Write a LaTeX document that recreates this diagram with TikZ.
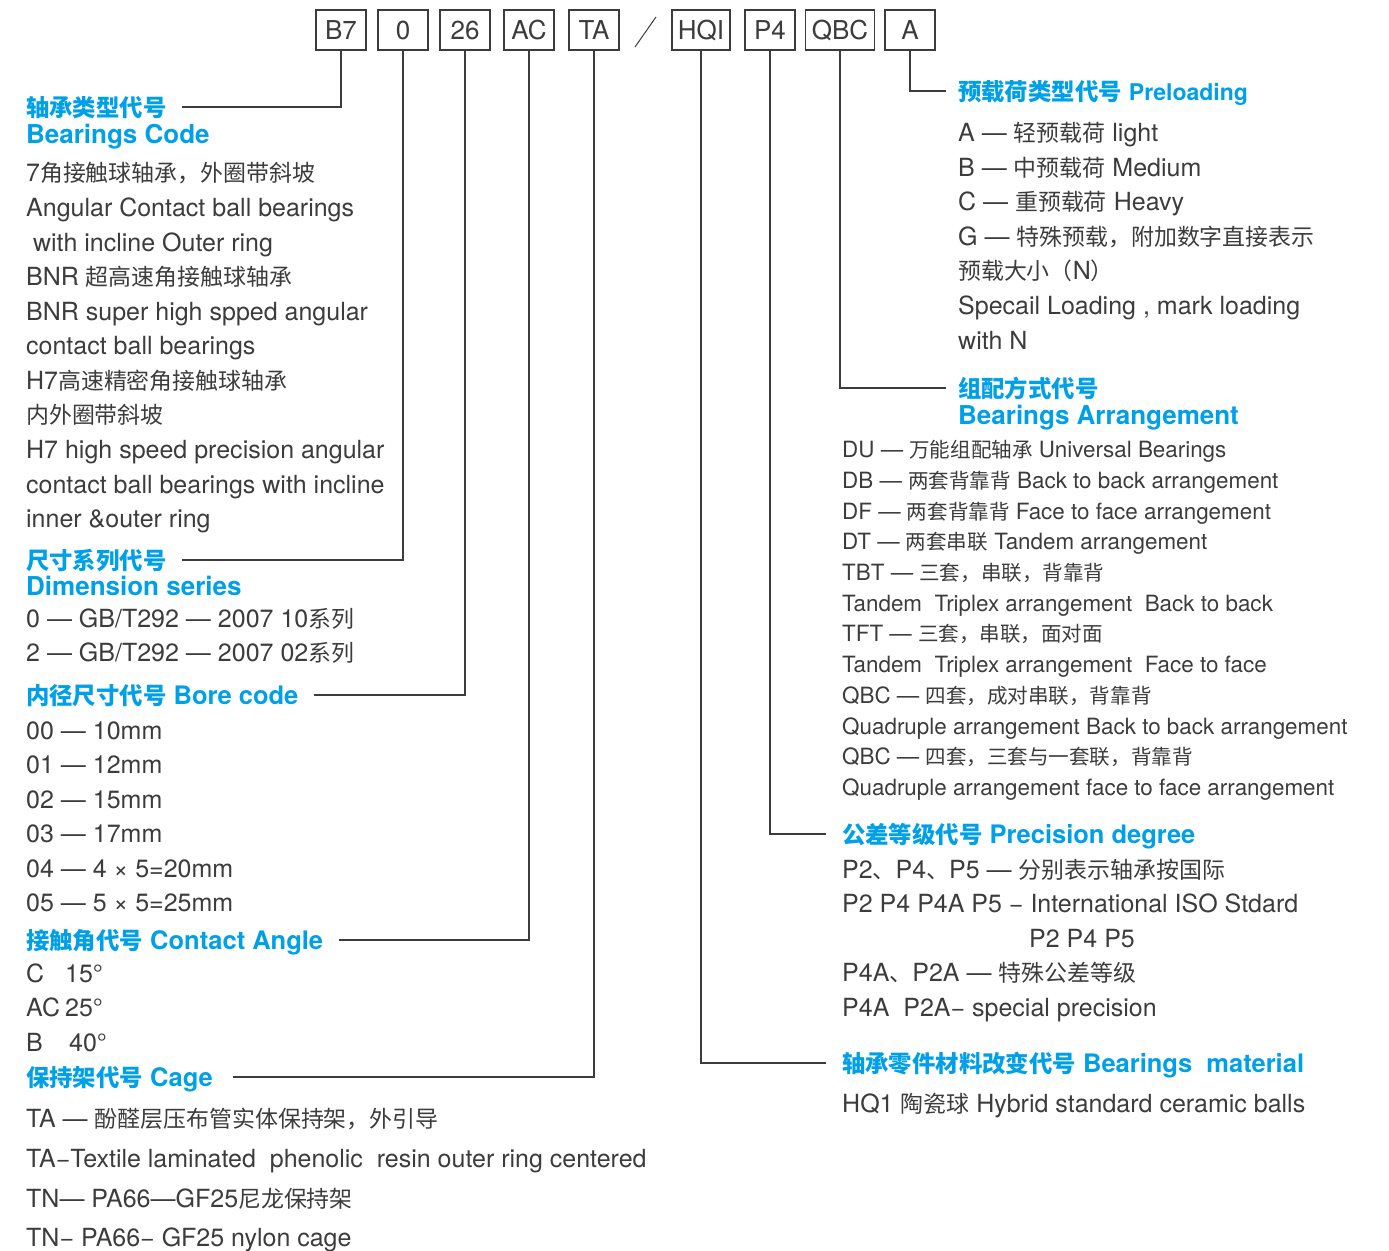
\documentclass[tikz,border=0pt]{standalone}
\usepackage{fontspec}
\usepackage{xcolor}
\usepackage{tikz}
\setmainfont{TeX Gyre Heros}
\newfontfamily\cjk{Noto Sans CJK SC}[Scale=0.917]
\newcommand\zh[1]{{\cjk #1}}
\definecolor{codeblue}{RGB}{0,160,233}
\definecolor{inkgray}{RGB}{60,60,60}
\tikzset{
  codebox/.style={draw=inkgray, line width=1.3pt, minimum width=50pt, minimum height=40pt, inner xsep=6pt, text=inkgray, font=\fontsize{26}{26}\selectfont},
  body/.style={anchor=west, inner sep=0pt, text height=18pt, text depth=0pt, text=inkgray, font=\fontsize{25}{25}\selectfont},
  small/.style={body, text height=16pt, font=\fontsize{22.4}{22.4}\selectfont},
  head/.style={body, text height=18.4pt, text=codeblue, font=\bfseries\fontsize{25.5}{25.5}\selectfont},
  lead/.style={draw=inkgray, line width=1.3pt, shorten >=#1},
  lead/.default=15pt
}

\begin{document}
\begin{tikzpicture}[x=1pt,y=-1pt]
    \useasboundingbox (0,0) rectangle (1389,1250);

    % Code boxes
    \node[codebox] (bx7) at (341,30) {B7};
    \node[codebox] (bx0) at (403,30) {0};
    \node[codebox] (bx26) at (465,30) {26};
    \node[codebox] (bxac) at (529,30) {AC};
    \node[codebox] (bxta) at (594,30) {TA};
    \draw[draw=inkgray, line width=1pt] (635,47) -- (656,17);
    \node[codebox] (bxhq) at (701,30) {HQI};
    \node[codebox] (bxp4) at (770,30) {P4};
    \node[codebox] (bxqbc) at (840,30) {QBC};
    \node[codebox] (bxa) at (910,30) {A};

    % Left column
    \node[head] (hdtype) at (26,107) {\zh{轴承类型代号}};
    \node[head, font=\bfseries\fontsize{26}{26}\selectfont] (hdtypeen) at (26,134) {Bearings Code};
    \node[body] (l1) at (26,172) {7\zh{角接触球轴承，外圈带斜坡}};
    \node[body] (l2) at (26,207) {Angular Contact ball bearings};
    \node[body] (l3) at (26,242) {\ with incline Outer ring};
    \node[body] (l4) at (26,276) {BNR \zh{超高速角接触球轴承}};
    \node[body] (l5) at (26,311) {BNR super high spped angular};
    \node[body] (l6) at (26,345) {contact ball bearings};
    \node[body] (l7) at (26,380) {H7\zh{高速精密角接触球轴承}};
    \node[body] (l8) at (26,414) {\zh{内外圈带斜坡}};
    \node[body] (l9) at (26,449) {H7 high speed precision angular};
    \node[body] (l10) at (26,484) {contact ball bearings with incline};
    \node[body] (l11) at (26,518) {inner \&outer ring};

    \node[head] (hddim) at (26,560) {\zh{尺寸系列代号}};
    \node[head, font=\bfseries\fontsize{26}{26}\selectfont] (hddimen) at (26,586) {Dimension series};
    \node[body] (d1) at (26,618) {0 — GB/T292 — 2007 10\zh{系列}};
    \node[body] (d2) at (26,652) {2 — GB/T292 — 2007 02\zh{系列}};

    \node[head] (hdbore) at (26,695) {\zh{内径尺寸代号} Bore code};
    \node[body] (b1) at (26,730) {00 — 10mm};
    \node[body] (b2) at (26,764) {01 — 12mm};
    \node[body] (b3) at (26,799) {02 — 15mm};
    \node[body] (b4) at (26,833) {03 — 17mm};
    \node[body] (b5) at (26,868) {04 — 4 × 5=20mm};
    \node[body] (b6) at (26,902) {05 — 5 × 5=25mm};

    \node[head] (hdangle) at (26,940) {\zh{接触角代号} Contact Angle};
    \node[body] (a1) at (26,973) {\makebox[39pt][l]{C}15°};
    \node[body] (a2) at (26,1007) {\makebox[39pt][l]{AC}25°};
    \node[body] (a3) at (26,1042) {\makebox[43pt][l]{B}40°};

    \node[head] (hdcage) at (26,1077) {\zh{保持架代号} Cage};
    \node[body] (c1) at (26,1118) {TA — \zh{酚醛层压布管实体保持架，外引导}};
    \node[body] (c2) at (26,1158) {TA−Textile laminated\ \ phenolic\ \ resin outer ring centered};
    \node[body] (c3) at (26,1198) {TN— PA66—GF25\zh{尼龙保持架}};
    \node[body] (c4) at (26,1237) {TN− PA66− GF25 nylon cage};

    % Right column
    \node[head] (hdpre) at (958,91) {\zh{预载荷类型代号} {\fontsize{23}{23}\selectfont Preloading}};
    \node[body] (p1) at (958,132) {A — \zh{轻预载荷} light};
    \node[body] (p2) at (958,167) {B — \zh{中预载荷} Medium};
    \node[body] (p3) at (958,201) {C — \zh{重预载荷} Heavy};
    \node[body] (p4) at (958,236) {G — \zh{特殊预载，附加数字直接表示}};
    \node[body] (p5) at (958,270) {\zh{预载大小（}N\zh{）}};
    \node[body] (p6) at (958,305) {Specail Loading , mark loading};
    \node[body] (p7) at (958,340) {with N};

    \node[head] (hdarr) at (958,388) {\zh{组配方式代号}};
    \node[head, font=\bfseries\fontsize{26}{26}\selectfont] (hdarren) at (958,415) {Bearings Arrangement};
    \node[small] (r1) at (842,449) {DU — \zh{万能组配轴承} Universal Bearings};
    \node[small] (r2) at (842,480) {DB — \zh{两套背靠背} Back to back arrangement};
    \node[small] (r3) at (842,511) {DF — \zh{两套背靠背} Face to face arrangement};
    \node[small] (r4) at (842,541) {DT — \zh{两套串联} Tandem arrangement};
    \node[small] (r5) at (842,572) {TBT — \zh{三套，串联，背靠背}};
    \node[small] (r6) at (842,603) {Tandem\ \ Triplex arrangement\ \ Back to back};
    \node[small] (r7) at (842,633) {TFT — \zh{三套，串联，面对面}};
    \node[small] (r8) at (842,664) {Tandem\ \ Triplex arrangement\ \ Face to face};
    \node[small] (r9) at (842,695) {QBC — \zh{四套，成对串联，背靠背}};
    \node[small] (r10) at (842,726) {Quadruple arrangement Back to back arrangement};
    \node[small] (r11) at (842,756) {QBC — \zh{四套，三套与一套联，背靠背}};
    \node[small] (r12) at (842,787) {Quadruple arrangement face to face arrangement};

    \node[head] (hdprec) at (842,834) {\zh{公差等级代号} Precision degree};
    \node[body] (q1) at (842,869) {P2\zh{、}P4\zh{、}P5 — \zh{分别表示轴承按国际}};
    \node[body] (q2) at (842,903) {P2 P4 P4A P5 − International ISO Stdard};
    \node[body] (q3) at (1029,938) {P2 P4 P5};
    \node[body] (q4) at (842,972) {P4A\zh{、}P2A — \zh{特殊公差等级}};
    \node[body] (q5) at (842,1007) {P4A\ \ P2A− special precision};

    \node[head] (hdmat) at (842,1063) {\zh{轴承零件材料改变代号} Bearings\ \ material};
    \node[body] (m1) at (842,1103) {HQ1 \zh{陶瓷球} Hybrid standard ceramic balls};

    % Leaders
    \draw[lead] (bx7.south) |- (hdtype);
    \draw[lead] (bx0.south) |- (hddim);
    \draw[lead] (bx26.south) |- (hdbore);
    \draw[lead=16pt] (bxac.south) |- (hdangle);
    \draw[lead=20pt] (bxta.south) |- (hdcage);
    \draw[lead=16pt] (bxhq.south) |- (hdmat);
    \draw[lead=16pt] (bxp4.south) |- (hdprec);
    \draw[lead=12pt] (bxqbc.south) |- (hdarr);
    \draw[lead=12pt] (bxa.south) |- (hdpre);
\end{tikzpicture}
\end{document}
